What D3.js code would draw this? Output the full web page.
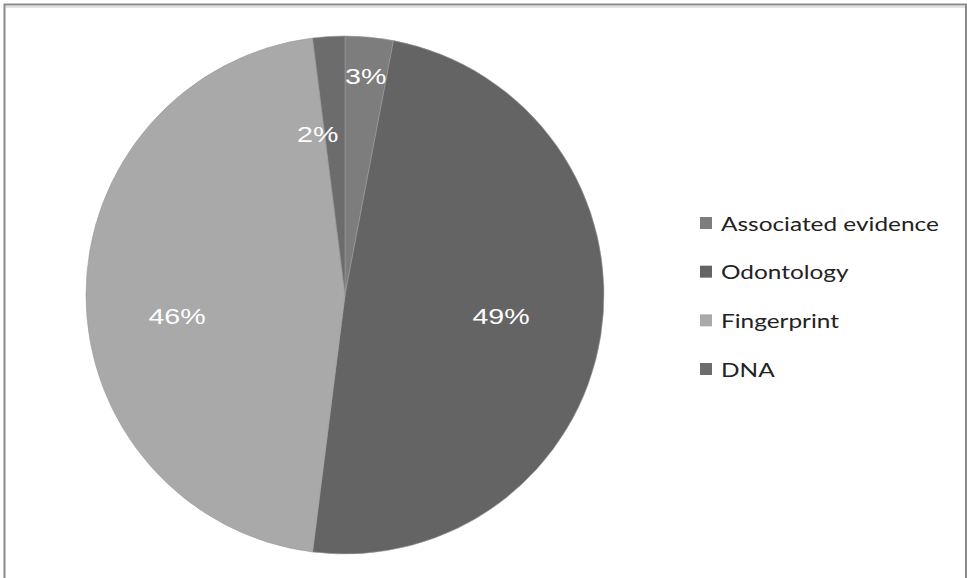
<!DOCTYPE html>
<html>
<head>
<meta charset="utf-8">
<script src="https://cdn.jsdelivr.net/npm/d3@7"></script>
<style>
  html, body { margin: 0; padding: 0; background: #fff; }
  svg { display: block; }
</style>
</head>
<body>
<svg id="chart" width="967" height="578"></svg>
<script>
// Identification methods, share of cases
const categories = ["Associated evidence", "Odontology", "Fingerprint", "DNA"];
const values = [3, 49, 46, 2];
const valueLabels = ["3%", "49%", "46%", "2%"];
const colors = ["#7d7d7d", "#646464", "#a9a9a9", "#6c6c6c"];

const svg = d3.select("#chart");
const W = 967, H = 578;

// outer frame
svg.append("rect")
  .attr("x", 4.5).attr("y", 4.5)
  .attr("width", W - 5.5).attr("height", H + 10)
  .attr("fill", "#fff")
  .attr("stroke", "#8a8a8a").attr("stroke-width", 2);
svg.append("line")
  .attr("x1", 6).attr("x2", W - 2).attr("y1", 7).attr("y2", 7)
  .attr("stroke", "#e2e2e2").attr("stroke-width", 2);

const cx = 345, cy = 295, R = 259;

const pie = d3.pie().sort(null).value(d => d.value);
const data = categories.map((c, i) => ({ name: c, value: values[i], color: colors[i], label: valueLabels[i] }));
const arcs = pie(data);

const arc = d3.arc().innerRadius(0).outerRadius(R);

const g = svg.append("g").attr("transform", `translate(${cx},${cy})`);

g.selectAll("path.slice")
  .data(arcs)
  .join("path")
  .attr("class", "slice")
  .attr("d", arc)
  .attr("fill", d => d.data.color)
  .attr("stroke", "#9a9a9a")
  .attr("stroke-width", 0.6);

// label placement: radius fraction and nudge per slice
const labelRadius = [0.85, 0.61, 0.61, 0.63];
const labelNudge = [[0, 0], [0, -3], [-10, 21], [-17, 2]];

g.selectAll("text.val")
  .data(arcs)
  .join("text")
  .attr("class", "val")
  .attr("transform", (d, i) => {
    const a = (d.startAngle + d.endAngle) / 2;
    const r = R * labelRadius[i];
    const x = Math.sin(a) * r + labelNudge[i][0];
    const y = -Math.cos(a) * r + labelNudge[i][1];
    return `translate(${x},${y}) scale(1.3,1)`;
  })
  .attr("text-anchor", "middle")
  .attr("dominant-baseline", "central")
  .attr("fill", "#ffffff")
  .style("font-family", "'Liberation Sans', Arial, sans-serif")
  .style("font-size", "22px")
  .text(d => d.data.label);

// legend
const legendY = d3.scalePoint().domain(categories).range([223, 369]);
const leg = svg.append("g");
const items = leg.selectAll("g.item")
  .data(data)
  .join("g")
  .attr("class", "item")
  .attr("transform", d => `translate(700,${legendY(d.name)})`);

items.append("rect")
  .attr("x", 0).attr("y", -6)
  .attr("width", 12).attr("height", 12)
  .attr("fill", d => d.color);

items.append("text")
  .attr("transform", "translate(21,0) scale(1.22,1)")
  .attr("dominant-baseline", "central")
  .attr("fill", "#222")
  .style("font-family", "Lato, 'Open Sans', sans-serif")
  .style("font-size", "20px")
  .text(d => d.name);
</script>
</body>
</html>
